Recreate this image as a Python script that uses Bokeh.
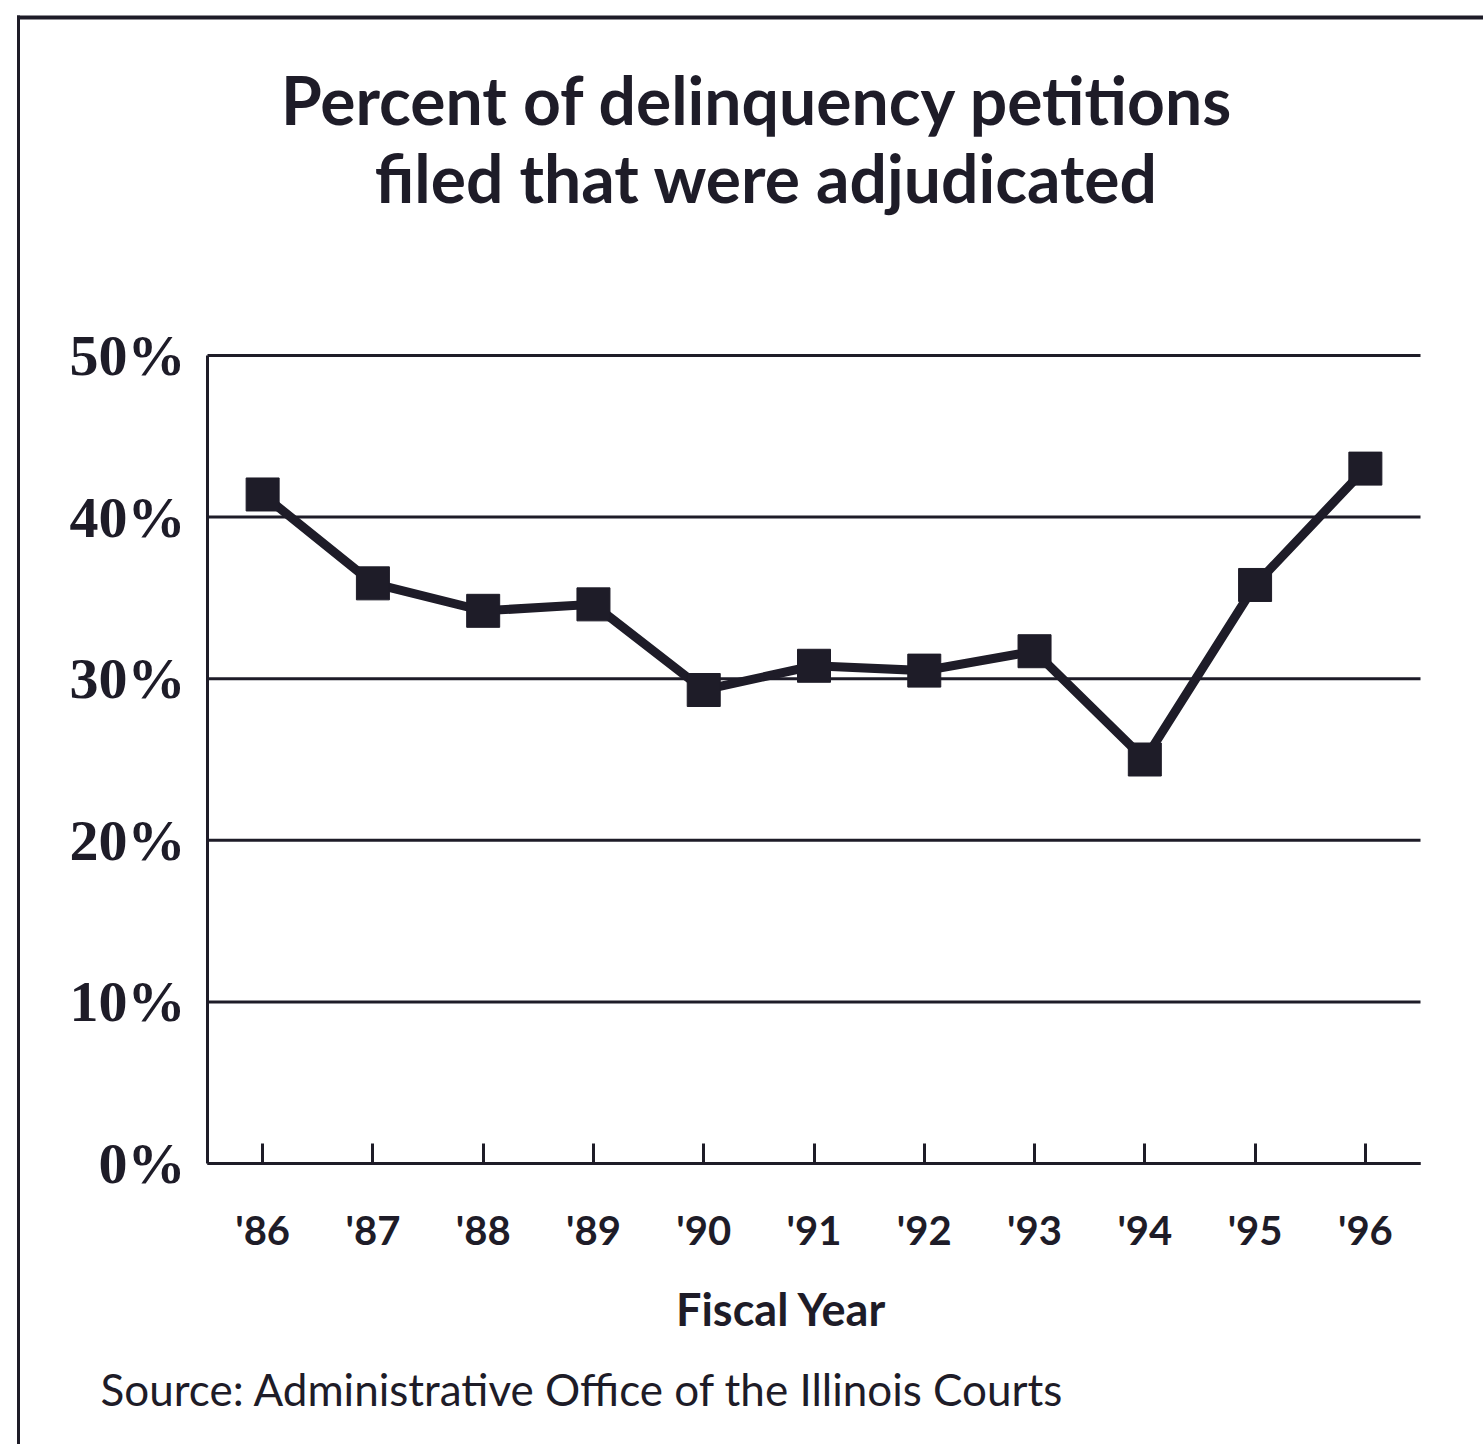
from bokeh.plotting import figure
from bokeh.models import FixedTicker, Range1d, Label, BoxAnnotation, LinearAxis
from bokeh.embed import file_html
from bokeh.resources import INLINE

# Fiscal years (two-digit) and percent of delinquency petitions adjudicated
years = [86, 87, 88, 89, 90, 91, 92, 93, 94, 95, 96]
year_labels = ["'86", "'87", "'88", "'89", "'90", "'91", "'92", "'93", "'94", "'95", "'96"]
pct_adjudicated = [41.4, 35.9, 34.2, 34.6, 29.3, 30.8, 30.5, 31.7, 25.0, 35.8, 43.0]
pct_ticks = [0, 10, 20, 30, 40, 50]
pct_labels = ["0%", "10%", "20%", "30%", "40%", "50%"]

title_lines = ["Percent of delinquency petitions", "filed that were adjudicated"]
x_title = "Fiscal Year"
source_note = "Source: Administrative Office of the Illinois Courts"

INK = "#1e1c28"
W, H = 1483, 1444

# chart box in page pixels; the frame covers the whole page so that the
# headings and the page rule can sit outside the chart box
BOX_L, BOX_R, BOX_T, BOX_B = 207, 1420, 355, 1163
X0, X1 = 85.5, 96.5
Y0, Y1 = 0, 50
kx = (BOX_R - BOX_L) / (X1 - X0)
ky = (BOX_B - BOX_T) / (Y1 - Y0)

p = figure(
    width=W, height=H,
    output_backend="svg", toolbar_location=None,
    x_axis_location=None, y_axis_location=None,
    x_range=Range1d(X0 - BOX_L / kx, X1 + (W - BOX_R) / kx),
    y_range=Range1d(Y0 - (H - BOX_B) / ky, Y1 + BOX_T / ky),
    min_border=0,
    background_fill_color="white", border_fill_color="white",
)
p.outline_line_color = None
p.grid.visible = False

# horizontal rules at each 10%
p.segment(x0=[X0] * len(pct_ticks), x1=[X1] * len(pct_ticks),
          y0=pct_ticks, y1=pct_ticks, line_color=INK, line_width=3)

# y axis: percent labels in a bold serif face, no ticks
ya = LinearAxis(fixed_location=X0, bounds=(Y0, Y1))
ya.ticker = FixedTicker(ticks=pct_ticks)
ya.major_label_overrides = dict(zip(pct_ticks, pct_labels))
ya.major_tick_in = 0
ya.major_tick_out = 0
ya.minor_tick_line_color = None
ya.axis_line_color = INK
ya.axis_line_width = 3
ya.major_label_standoff = 22
ya.major_label_text_font = "Liberation Serif"
ya.major_label_text_font_style = "bold"
ya.major_label_text_font_size = "58px"
ya.major_label_text_color = INK
p.add_layout(ya, "left")

# x axis: year labels with inward ticks
xa = LinearAxis(fixed_location=Y0, bounds=(X0, X1))
xa.ticker = FixedTicker(ticks=years)
xa.major_label_overrides = dict(zip(years, year_labels))
xa.major_tick_in = 20
xa.major_tick_out = 0
xa.major_tick_line_width = 3
xa.major_tick_line_color = INK
xa.minor_tick_line_color = None
xa.axis_line_color = INK
xa.axis_line_width = 3
xa.major_label_standoff = 42
xa.major_label_text_font = "Lato"
xa.major_label_text_font_style = "bold"
xa.major_label_text_font_size = "40px"
xa.major_label_text_color = INK
p.add_layout(xa, "below")

# the series
p.line(years, pct_adjudicated, line_width=9, line_color=INK, line_join="miter")
p.scatter(years, pct_adjudicated, marker="square", size=33,
          fill_color=INK, line_color=INK)

# screen units run from the frame's lower-left corner (= page bottom-left)
def sy(cy):
    return H - cy

for text, cx, cy in [(title_lines[0], 757, 99), (title_lines[1], 766, 177)]:
    p.add_layout(Label(x=cx, y=sy(cy), x_units="screen", y_units="screen",
                       text=text, text_align="center", text_baseline="alphabetic",
                       text_font="Lato", text_font_style="bold",
                       text_font_size="66px", text_color=INK))

p.add_layout(Label(x=781, y=sy(1308), x_units="screen", y_units="screen",
                   text=x_title, text_align="center", text_baseline="alphabetic",
                   text_font="Lato", text_font_style="bold",
                   text_font_size="45px", text_color=INK))

p.add_layout(Label(x=100, y=sy(1388), x_units="screen", y_units="screen",
                   text=source_note, text_align="left", text_baseline="alphabetic",
                   text_font="Lato", text_font_size="44px", text_color=INK))

# page rule along the left and top edges
p.add_layout(BoxAnnotation(left=16.5, right=19.5, top=sy(15), bottom=sy(H + 5),
                           left_units="screen", right_units="screen",
                           top_units="screen", bottom_units="screen",
                           fill_color=INK, fill_alpha=1, line_color=None))
p.add_layout(BoxAnnotation(left=16.5, right=W + 5, top=sy(15), bottom=sy(19),
                           left_units="screen", right_units="screen",
                           top_units="screen", bottom_units="screen",
                           fill_color=INK, fill_alpha=1, line_color=None))

open("out.html", "w").write(file_html(p, INLINE))
